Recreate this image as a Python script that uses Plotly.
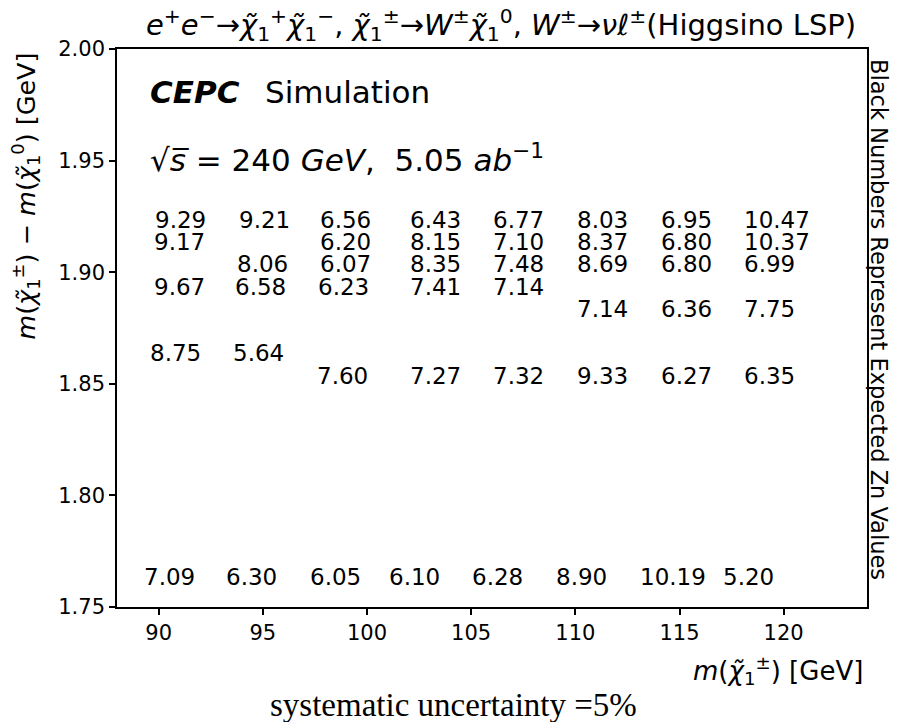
import plotly.graph_objects as go

# ---- data ----
x_ticks = [90, 95, 100, 105, 110, 115, 120]
y_ticks = [1.75, 1.80, 1.85, 1.90, 1.95, 2.00]

# label anchor: left edge (GeV) and baseline (GeV) of each Zn value
label_x = [
    89.84, 89.76, 89.76, 89.57, 89.28,
    93.84, 93.76, 93.65, 93.57, 93.25,
    97.76, 97.76, 97.76, 97.65, 97.60, 97.25,
    102.05, 102.05, 102.05, 102.05, 102.05, 101.05,
    106.06, 106.06, 106.06, 106.06, 106.06, 105.05,
    110.09, 110.09, 110.09, 110.09, 110.09, 109.05,
    114.10, 114.10, 114.10, 114.10, 114.10, 113.10,
    118.10, 118.10, 118.10, 118.10, 118.10, 117.09,
]
label_y = [
    1.92, 1.91, 1.89, 1.86, 1.76,
    1.92, 1.90, 1.89, 1.86, 1.76,
    1.92, 1.91, 1.90, 1.89, 1.85, 1.76,
    1.92, 1.91, 1.90, 1.89, 1.85, 1.76,
    1.92, 1.91, 1.90, 1.89, 1.85, 1.76,
    1.92, 1.91, 1.90, 1.88, 1.85, 1.76,
    1.92, 1.91, 1.90, 1.88, 1.85, 1.76,
    1.92, 1.91, 1.90, 1.88, 1.85, 1.76,
]
zn_values = [
    9.29, 9.17, 9.67, 8.75, 7.09,
    9.21, 8.06, 6.58, 5.64, 6.30,
    6.56, 6.20, 6.07, 6.23, 7.60, 6.05,
    6.43, 8.15, 8.35, 7.41, 7.27, 6.10,
    6.77, 7.10, 7.48, 7.14, 7.32, 6.28,
    8.03, 8.37, 8.69, 7.14, 9.33, 8.90,
    6.95, 6.80, 6.80, 6.36, 6.27, 10.19,
    10.47, 10.37, 6.99, 7.75, 6.35, 5.20,
]

FONT = "DejaVu Sans"
CHI = "<i>χ\u0303</i>"

fig = go.Figure()
fig.add_trace(go.Scatter(x=[None], y=[None], mode="markers", showlegend=False))

annotations = []
for xv, yv, zv in zip(label_x, label_y, zn_values):
    annotations.append(dict(
        x=xv, y=yv, xref="x", yref="y", text=f"{zv:.2f}", showarrow=False,
        xanchor="left", yanchor="middle", yshift=8, borderpad=0, borderwidth=0,
        font=dict(family=FONT, size=23, color="black"),
    ))

title_txt = ("<i>e</i><sup>+</sup><i>e</i><sup>−</sup>→" + CHI + "<sub>1</sub><sup>+</sup>" + CHI +
             "<sub>1</sub><sup>−</sup>, " + CHI + "<sub>1</sub><sup>±</sup>→<i>W</i><sup>±</sup>" + CHI +
             "<sub>1</sub><sup>0</sup>, <i>W</i><sup>±</sup>→<i>νℓ</i><sup>±</sup>(Higgsino LSP)")
annotations.append(dict(x=0.512, y=1.043, xref="paper", yref="paper", text=title_txt, showarrow=False,
                        xanchor="center", yanchor="middle", font=dict(family=FONT, size=29, color="black")))
annotations.append(dict(x=0.0413, y=0.9238, xref="paper", yref="paper", text="<b><i>CEPC</i></b>",
                        showarrow=False, xanchor="left", yanchor="middle",
                        font=dict(family=FONT, size=31, color="black")))
annotations.append(dict(x=0.1947, y=0.9238, xref="paper", yref="paper", text="Simulation",
                        showarrow=False, xanchor="left", yanchor="middle",
                        font=dict(family=FONT, size=31, color="black")))
annotations.append(dict(x=0.0413, y=0.804, xref="paper", yref="paper",
                        text="√<i>s\u0305</i> = 240 <i>GeV</i>,  5.05 <i>ab</i><sup>−1</sup>",
                        showarrow=False, xanchor="left", yanchor="middle",
                        font=dict(family=FONT, size=31, color="black")))
annotations.append(dict(x=-0.122, y=0.997, xref="paper", yref="paper",
                        text="<i>m</i>(" + CHI + "<sub>1</sub><sup>±</sup>) − <i>m</i>(" + CHI +
                             "<sub>1</sub><sup>0</sup>) [GeV]",
                        textangle=-90, showarrow=False, xanchor="center", yanchor="top",
                        font=dict(family=FONT, size=25.5, color="black")))
annotations.append(dict(x=0.997, y=-0.113, xref="paper", yref="paper",
                        text="<i>m</i>(" + CHI + "<sub>1</sub><sup>±</sup>) [GeV]",
                        showarrow=False, xanchor="right", yanchor="middle",
                        font=dict(family=FONT, size=26, color="black")))
annotations.append(dict(x=1.016, y=0.516, xref="paper", yref="paper",
                        text="Black Numbers Represent Expected Zn Values",
                        textangle=90, showarrow=False, xanchor="center", yanchor="middle",
                        font=dict(family=FONT, size=22.5, color="black")))
annotations.append(dict(x=0.448, y=-0.1756, xref="paper", yref="paper",
                        text="systematic uncertainty =5%",
                        showarrow=False, xanchor="center", yanchor="middle",
                        font=dict(family="Liberation Serif", size=33, color="black")))

axis_common = dict(showgrid=False, zeroline=False, showline=True, linecolor="black", linewidth=1.6,
                   mirror=True, ticks="outside", ticklen=6, tickwidth=1.5, tickcolor="black",
                   tickfont=dict(family=FONT, size=21, color="black"))

fig.update_layout(
    width=897, height=722, autosize=False,
    margin=dict(l=117, r=30, t=49, b=115),
    paper_bgcolor="white", plot_bgcolor="white",
    showlegend=False,
    xaxis=dict(range=[88, 124], tickvals=x_ticks, ticktext=[str(v) for v in x_ticks], **axis_common),
    yaxis=dict(range=[1.75, 2.00], tickvals=y_ticks, ticktext=[f"{v:.2f}" for v in y_ticks], **axis_common),
    annotations=annotations,
)

fig.write_html("out.html")
